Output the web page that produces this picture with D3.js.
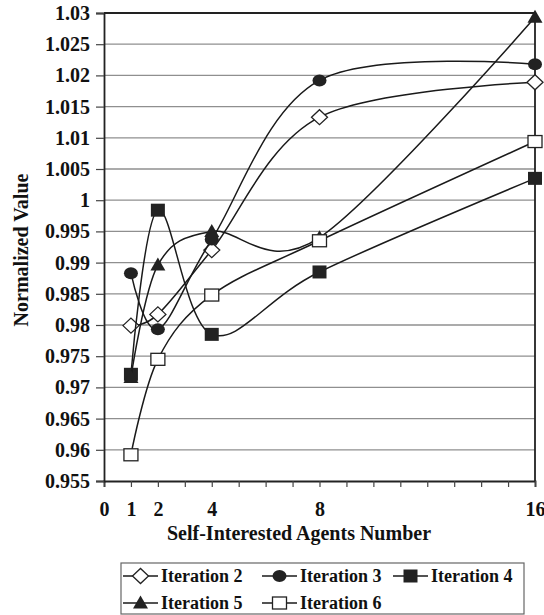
<!DOCTYPE html>
<html>
<head>
<meta charset="utf-8">
<script src="https://cdn.jsdelivr.net/npm/d3@7"></script>
<style>
  html, body { margin: 0; padding: 0; background: #fff; }
  svg { display: block; }
  svg text { font-family: "Liberation Serif", "Times New Roman", Times, "DejaVu Serif", serif !important; font-weight: bold; }
</style>
</head>
<body>
<svg id="chart" width="544" height="615"></svg>
<script>
// ---- data ----
const xValues = [1, 2, 4, 8, 16];
const seriesNames = ["Iteration 2", "Iteration 3", "Iteration 4", "Iteration 5", "Iteration 6"];
const iteration2 = [0.9799, 0.9817, 0.9920, 1.0133, 1.0189];
const iteration3 = [0.9883, 0.9793, 0.9937, 1.0192, 1.0218];
const iteration4 = [0.9721, 0.9984, 0.9785, 0.9885, 1.0035];
const iteration5 = [0.9716, 0.9896, 0.9950, 0.9940, 1.0293];
const iteration6 = [0.9592, 0.9745, 0.9848, 0.9935, 1.0094];
const markerTypes = ["diamond", "circle", "square", "triangle", "openSquare"];
const xTickLabels = [0, 1, 2, 4, 8, 16];
const yTickValues = [0.955, 0.96, 0.965, 0.97, 0.975, 0.98, 0.985, 0.99, 0.995, 1, 1.005, 1.01, 1.015, 1.02, 1.025, 1.03];

const allSeries = [iteration2, iteration3, iteration4, iteration5, iteration6];

// ---- layout ----
const L = 104, R = 535, T = 13, B = 481;
const svg = d3.select("#chart");
const x = d3.scaleLinear().domain([0, 16]).range([L, R]);
const y = d3.scaleLinear().domain([0.955, 1.03]).range([B, T]);

// gridlines
svg.append("g").selectAll("line")
  .data(yTickValues.filter(v => v > 0.956 && v < 1.029))
  .join("line")
  .attr("x1", L).attr("x2", R)
  .attr("y1", d => y(d)).attr("y2", d => y(d))
  .attr("stroke", "#8f8f8f").attr("stroke-width", 1.3);

// plot border (top & right)
svg.append("path")
  .attr("d", `M${L},${T}H${R}V${B}`)
  .attr("fill", "none").attr("stroke", "#222").attr("stroke-width", 1.8);

// x axis
const xAxis = d3.axisBottom(x)
  .tickValues(d3.range(0, 17))
  .tickSize(6)
  .tickPadding(15)
  .tickFormat(d => xTickLabels.includes(d) ? String(d) : "");
const gx = svg.append("g").attr("transform", `translate(0,${B})`).call(xAxis);
gx.attr("font-family", null);
gx.select(".domain").attr("stroke", "#222").attr("stroke-width", 1.8);
gx.selectAll(".tick line").attr("stroke", "#444").attr("stroke-width", 1.2);
gx.selectAll(".tick text").attr("font-size", 20).attr("fill", "#111");

// y axis
const yAxis = d3.axisLeft(y)
  .tickValues(yTickValues)
  .tickSize(8)
  .tickPadding(6)
  .tickFormat(d => String(+d.toFixed(3)));
const gy = svg.append("g").attr("transform", `translate(${L},0)`).call(yAxis);
gy.attr("font-family", null);
gy.select(".domain").attr("stroke", "#222").attr("stroke-width", 1.8);
gy.selectAll(".tick line").attr("stroke", "#444").attr("stroke-width", 1.2);
gy.selectAll(".tick text").attr("font-size", 20).attr("fill", "#111");

// axis titles
svg.append("text")
  .attr("x", 299).attr("y", 540)
  .attr("text-anchor", "middle")
  .attr("font-size", 20).attr("fill", "#111")
  .text("Self-Interested Agents Number");
svg.append("text")
  .attr("transform", `translate(28,${(T + B) / 2 + 3}) rotate(-90)`)
  .attr("text-anchor", "middle")
  .attr("font-size", 20).attr("fill", "#111")
  .text("Normalized Value");

// marker drawing
function drawMarker(g, type, cx, cy) {
  if (type === "diamond") {
    g.append("path").attr("d", `M${cx - 8},${cy}L${cx},${cy - 7.5}L${cx + 8},${cy}L${cx},${cy + 7.5}Z`)
      .attr("fill", "#fff").attr("stroke", "#222").attr("stroke-width", 1.3);
  } else if (type === "circle") {
    g.append("ellipse").attr("cx", cx).attr("cy", cy).attr("rx", 7).attr("ry", 6)
      .attr("fill", "#222");
  } else if (type === "square") {
    g.append("rect").attr("x", cx - 7).attr("y", cy - 6.5).attr("width", 14).attr("height", 13)
      .attr("fill", "#222");
  } else if (type === "triangle") {
    g.append("path").attr("d", `M${cx},${cy - 7.5}L${cx + 7.5},${cy + 5.5}L${cx - 7.5},${cy + 5.5}Z`)
      .attr("fill", "#222");
  } else if (type === "openSquare") {
    g.append("rect").attr("x", cx - 7).attr("y", cy - 6).attr("width", 14).attr("height", 12)
      .attr("fill", "#fff").attr("stroke", "#222").attr("stroke-width", 1.3);
  }
}

// series
const line = d3.line()
  .x(d => x(d[0]))
  .y(d => y(d[1]))
  .curve(d3.curveCardinal.tension(0));

allSeries.forEach((vals, i) => {
  const pts = xValues.map((xv, j) => [xv, vals[j]]);
  const g = svg.append("g");
  g.append("path").attr("d", line(pts))
    .attr("fill", "none").attr("stroke", "#1a1a1a").attr("stroke-width", 1.5);
  pts.forEach(p => drawMarker(g, markerTypes[i], x(p[0]), y(p[1])));
});

// legend
const legend = svg.append("g");
legend.append("rect")
  .attr("x", 121).attr("y", 563).attr("width", 403).attr("height", 51)
  .attr("fill", "#fff").attr("stroke", "#666").attr("stroke-width", 1.2);
const legendPos = [[123, 576], [262, 576], [393, 576], [123, 603], [262, 603]];
seriesNames.forEach((name, i) => {
  const [lx, ly] = legendPos[i];
  const g = legend.append("g");
  g.append("line").attr("x1", lx).attr("x2", lx + 35).attr("y1", ly).attr("y2", ly)
    .attr("stroke", "#1a1a1a").attr("stroke-width", 1.5);
  drawMarker(g, markerTypes[i], lx + 17.5, ly);
  g.append("text").attr("x", lx + 38).attr("y", ly).attr("dy", "0.35em")
    .attr("font-size", 18).attr("fill", "#111").text(name);
});
</script>
</body>
</html>
